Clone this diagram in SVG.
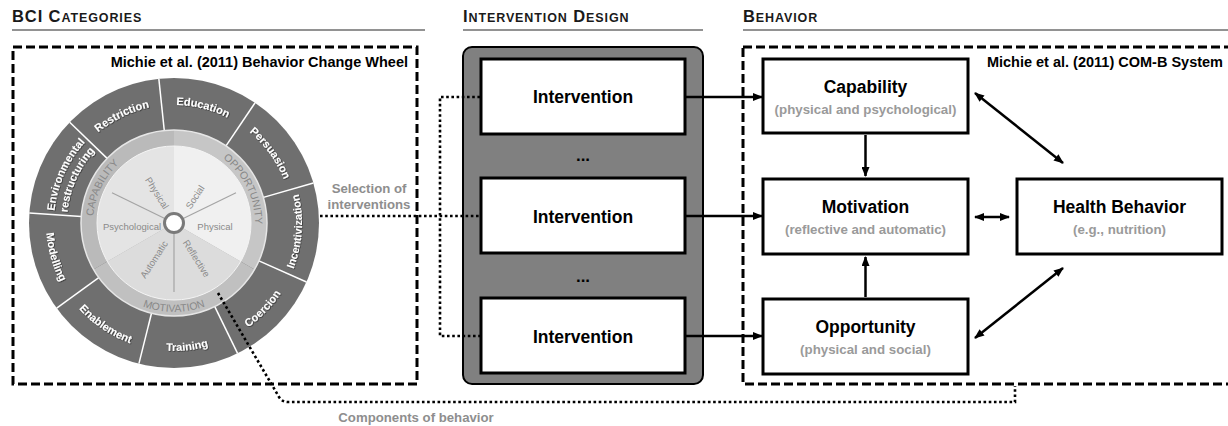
<svg xmlns="http://www.w3.org/2000/svg" width="1228" height="426" viewBox="0 0 1228 426">
<style>
text{font-family:"Liberation Sans",Arial,sans-serif}
.hd{font-weight:bold;fill:#1a1a1a;letter-spacing:0.9px}
.hl{stroke:#6e6e6e;stroke-width:1.5;fill:none}
.dash{fill:none;stroke:#000;stroke-width:3;stroke-dasharray:9 4}
.dot{fill:none;stroke:#000;stroke-width:2.6;stroke-dasharray:2.6 2.6}
.src{font-weight:bold;font-size:14.5px;fill:#000}
.wl{font-weight:bold;font-size:11px;fill:#fff}
.band{font-size:10.5px;fill:#888}
.inl{font-size:9.5px;fill:#8a8a8a}
.sep{stroke:#fff;stroke-width:1.5}
.spoke{stroke:#a4a4a4;stroke-width:1.2}
.box{fill:#fff;stroke:#000;stroke-width:3}
.bl{font-weight:bold;font-size:17.5px;fill:#000;text-anchor:middle}
.sub{font-weight:bold;font-size:13.3px;fill:#9a9a9a;text-anchor:middle}
.gl{font-weight:bold;font-size:13.2px;fill:#8e8e8e;text-anchor:middle}
.arr{stroke:#000;stroke-width:2.5;fill:none}
</style>
<defs>
<marker id="ah" viewBox="0 0 10 8" refX="9" refY="4" markerWidth="10" markerHeight="8" markerUnits="userSpaceOnUse" orient="auto-start-reverse"><path d="M0,0 L10,4 L0,8 z" fill="#000"/></marker>
<filter id="sh" x="-20%" y="-30%" width="140%" height="160%"><feDropShadow dx="0.7" dy="0.7" stdDeviation="0.4" flood-color="#222" flood-opacity="0.8"/></filter>
<path id="pEdu" d="M141.48,109.57 A118,118 0 0 1 255.97,138.12"/>
<path id="pPer" d="M221.99,115.20 A118,118 0 0 1 291.35,210.67"/>
<path id="pRes" d="M76.18,157.01 A118,118 0 0 1 182.24,105.28"/>
<path id="pEnv1" d="M54.66,235.54 A120,120 0 0 1 103.47,125.92"/>
<path id="pEnv2" d="M67.59,234.18 A107,107 0 0 1 111.11,136.44"/>
<path id="pInc" d="M280.11,294.58 A128,128 0 0 0 289.05,166.88"/>
<path id="pCoe" d="M209.28,346.05 A128,128 0 0 0 298.20,253.96"/>
<path id="pTra" d="M121.94,339.93 A128,128 0 0 0 249.24,326.55"/>
<path id="pEna" d="M58.95,279.12 A128,128 0 0 0 165.07,350.69"/>
<path id="pMod" d="M49.80,192.04 A128,128 0 0 0 85.08,315.07"/>
<path id="pCap" d="M94.00,235.67 A81,81 0 0 1 134.73,152.16"/>
<path id="pOpp" d="M213.27,152.16 A81,81 0 0 1 254.00,235.67"/>
<path id="pMot" d="M116.79,291.17 A89,89 0 0 0 231.21,291.17"/>
</defs>

<g id="headings">
<text class="hd" x="12" y="22" font-size="16.5">BCI C<tspan font-size="12.5">ATEGORIES</tspan></text>
<line class="hl" x1="12" y1="30" x2="425" y2="30"/>
<text class="hd" x="463" y="22" font-size="16.5">I<tspan font-size="12.5">NTERVENTION</tspan> D<tspan font-size="12.5">ESIGN</tspan></text>
<line class="hl" x1="463" y1="30" x2="703" y2="30"/>
<text class="hd" x="743" y="22" font-size="16.5">B<tspan font-size="12.5">EHAVIOR</tspan></text>
<line class="hl" x1="743" y1="30" x2="1228" y2="30"/>
</g>

<g id="bci-categories">
<rect class="dash" x="13" y="47" width="404" height="337"/>
<text class="src" x="408" y="67" text-anchor="end">Michie et al. (2011) Behavior Change Wheel</text>
</g>

<g id="behavior-change-wheel">
<circle cx="174" cy="223" r="145" fill="#6f6f6f"/>
<g class="sep">
<line x1="164.28" y1="130.51" x2="158.85" y2="78.80"/>
<line x1="226.01" y1="145.90" x2="255.08" y2="102.79"/>
<line x1="263.40" y1="197.37" x2="313.39" y2="183.04"/>
<line x1="258.96" y1="260.82" x2="306.46" y2="281.97"/>
<line x1="214.77" y1="306.59" x2="237.57" y2="353.33"/>
<line x1="151.50" y1="313.24" x2="138.92" y2="363.69"/>
<line x1="98.76" y1="277.67" x2="56.69" y2="308.23"/>
<line x1="81.22" y1="216.51" x2="29.35" y2="212.88"/>
<line x1="107.11" y1="158.39" x2="69.70" y2="122.27"/>
</g>
<path d="M174,223 L93.46,269.5 A93,93 0 0 1 174,130 Z" fill="#bababa"/>
<path d="M174,223 L174,130 A93,93 0 0 1 254.54,269.5 Z" fill="#c6c6c6"/>
<path d="M174,223 L254.54,269.5 A93,93 0 0 1 93.46,269.5 Z" fill="#c0c0c0"/>
<circle cx="174" cy="223" r="93" fill="none" stroke="#e6e6e6" stroke-width="1.5"/>
<path d="M174,223 L107.32,261.5 A77,77 0 0 1 174,146 Z" fill="#e4e4e4"/>
<path d="M174,223 L174,146 A77,77 0 0 1 240.68,261.5 Z" fill="#f0f0f0"/>
<path d="M174,223 L240.68,261.5 A77,77 0 0 1 107.32,261.5 Z" fill="#dcdcdc"/>
<circle cx="174" cy="223" r="77" fill="none" stroke="#f4f4f4" stroke-width="1"/>
<line class="spoke" x1="174" y1="223" x2="236.02" y2="192.75"/>
<line class="spoke" x1="174" y1="223" x2="174" y2="292"/>
<line class="spoke" x1="174" y1="223" x2="111.98" y2="192.75"/>
<circle cx="174" cy="223" r="9.5" fill="#fff" stroke="#7a7a7a" stroke-width="3"/>
<g class="wl" filter="url(#sh)" text-anchor="middle">
<text><textPath href="#pEdu" startOffset="50%">Education</textPath></text>
<text><textPath href="#pPer" startOffset="50%">Persuasion</textPath></text>
<text><textPath href="#pRes" startOffset="50%">Restriction</textPath></text>
<text><textPath href="#pEnv1" startOffset="50%">Environmental</textPath></text>
<text><textPath href="#pEnv2" startOffset="50%">restructuring</textPath></text>
<text><textPath href="#pInc" startOffset="50%">Incentivization</textPath></text>
<text><textPath href="#pCoe" startOffset="50%">Coercion</textPath></text>
<text><textPath href="#pTra" startOffset="50%">Training</textPath></text>
<text><textPath href="#pEna" startOffset="50%">Enablement</textPath></text>
<text><textPath href="#pMod" startOffset="50%">Modelling</textPath></text>
</g>
<g class="band" text-anchor="middle">
<text><textPath href="#pCap" startOffset="50%">CAPABILITY</textPath></text>
<text><textPath href="#pOpp" startOffset="50%">OPPORTUNITY</textPath></text>
<text><textPath href="#pMot" startOffset="50%">MOTIVATION</textPath></text>
</g>
<g class="inl" text-anchor="middle">
<text x="132" y="226.5" dy="0.35em">Psychological</text>
<text x="215" y="226.5" dy="0.35em">Physical</text>
<text transform="translate(157,193) rotate(58)" dy="0.35em">Physical</text>
<text transform="translate(195,197) rotate(-57)" dy="0.35em">Social</text>
<text transform="translate(154,259.5) rotate(-57)" dy="0.35em">Automatic</text>
<text transform="translate(196.5,258.5) rotate(58)" dy="0.35em">Reflective</text>
</g>
</g>

<g id="intervention-design">
<rect x="463" y="47" width="240" height="337" rx="9" fill="#808080" stroke="#000" stroke-width="2"/>
<text x="583" y="161" font-size="17" font-weight="bold" text-anchor="middle">...</text>
<text x="583" y="282" font-size="17" font-weight="bold" text-anchor="middle">...</text>
</g>
<g id="intervention-1">
<rect class="box" x="481" y="59" width="204" height="75"/>
<text class="bl" x="583" y="103">Intervention</text>
</g>
<g id="intervention-2">
<rect class="box" x="481" y="178" width="204" height="75"/>
<text class="bl" x="583" y="222.5">Intervention</text>
</g>
<g id="intervention-3">
<rect class="box" x="481" y="298" width="204" height="75"/>
<text class="bl" x="583" y="343">Intervention</text>
</g>

<g id="com-b-system">
<rect class="dash" x="743" y="47" width="500" height="337"/>
<text class="src" x="1223" y="67" text-anchor="end">Michie et al. (2011) COM-B System</text>
</g>
<g id="capability">
<rect class="box" x="763" y="59" width="205" height="74"/>
<text class="bl" x="865.5" y="93">Capability</text>
<text class="sub" x="865.5" y="114">(physical and psychological)</text>
</g>
<g id="motivation">
<rect class="box" x="763" y="179" width="205" height="75"/>
<text class="bl" x="865.5" y="213">Motivation</text>
<text class="sub" x="865.5" y="233.5">(reflective and automatic)</text>
</g>
<g id="opportunity">
<rect class="box" x="763" y="299" width="205" height="75"/>
<text class="bl" x="865.5" y="333">Opportunity</text>
<text class="sub" x="865.5" y="353.5">(physical and social)</text>
</g>
<g id="health-behavior">
<rect class="box" x="1017" y="179" width="205" height="75"/>
<text class="bl" x="1119.5" y="213">Health Behavior</text>
<text class="sub" x="1119.5" y="233.5">(e.g., nutrition)</text>
</g>

<g id="connectors">
<path class="dot" d="M320,216 L480,216"/>
<path class="dot" d="M480,97 L440,97 L440,336 L480,336"/>
<path class="dot" d="M218,293 L279,397 Q282,402 288,402 L1015,402 L1015,386"/>
<text class="gl" x="369" y="193">Selection of</text>
<text class="gl" x="369" y="208.5">interventions</text>
<text class="gl" x="416" y="422">Components of behavior</text>
<line class="arr" x1="686" y1="97" x2="762" y2="97" marker-end="url(#ah)"/>
<line class="arr" x1="686" y1="216" x2="762" y2="216" marker-end="url(#ah)"/>
<line class="arr" x1="686" y1="336" x2="762" y2="336" marker-end="url(#ah)"/>
<line class="arr" x1="865.5" y1="135" x2="865.5" y2="176" marker-end="url(#ah)"/>
<line class="arr" x1="865.5" y1="297" x2="865.5" y2="257" marker-end="url(#ah)"/>
<line class="arr" x1="975" y1="93" x2="1063" y2="163" marker-start="url(#ah)" marker-end="url(#ah)"/>
<line class="arr" x1="975" y1="217" x2="1009" y2="217" marker-start="url(#ah)" marker-end="url(#ah)"/>
<line class="arr" x1="975" y1="338" x2="1063" y2="268" marker-start="url(#ah)" marker-end="url(#ah)"/>
</g>
</svg>
